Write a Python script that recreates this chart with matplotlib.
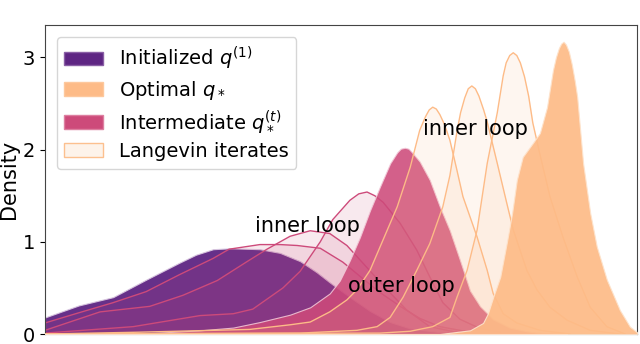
import matplotlib
matplotlib.use("Agg")
import matplotlib.pyplot as plt
from matplotlib.patches import Patch

# densities (x axis is unitless, 0..10)
x_init = [0.0, 0.57, 1.15, 1.71, 2.26, 2.55, 2.84, 3.13, 3.63, 3.97, 4.31, 4.59, 4.81, 5.15, 5.49, 5.83, 6.17, 6.67, 7.35]
q_init = [0.18, 0.31, 0.40, 0.59, 0.77, 0.86, 0.92, 0.93, 0.92, 0.88, 0.79, 0.67, 0.56, 0.40, 0.25, 0.13, 0.06, 0.02, 0.0]

# intermediate targets (inner loop of the outer loop)
x_mid1 = [0.0, 0.57, 1.15, 1.71, 2.26, 2.84, 3.11, 3.63, 3.97, 4.26, 4.65, 5.03, 5.37, 5.66, 6.00, 6.33, 6.67, 7.18]
q_mid1 = [0.12, 0.23, 0.34, 0.46, 0.64, 0.82, 0.92, 0.97, 0.97, 0.96, 0.93, 0.78, 0.60, 0.45, 0.30, 0.17, 0.08, 0.02]

x_mid2 = [0.0, 0.93, 1.77, 2.33, 2.91, 3.40, 3.75, 4.14, 4.48, 4.81, 5.10, 5.44, 5.78, 6.11, 6.50, 7.01]
q_mid2 = [0.04, 0.24, 0.30, 0.42, 0.58, 0.78, 0.92, 1.06, 1.12, 1.09, 0.96, 0.72, 0.48, 0.26, 0.08, 0.01]

x_mid3 = [0.0, 1.49, 2.62, 3.18, 3.51, 4.02, 4.31, 4.65, 4.86, 5.15, 5.30, 5.44, 5.57, 5.71, 6.00, 6.28, 6.50,
          6.72, 7.01, 7.35, 7.69]
q_mid3 = [0.01, 0.08, 0.20, 0.22, 0.27, 0.50, 0.68, 1.00, 1.24, 1.45, 1.52, 1.54, 1.50, 1.43, 1.20, 0.91, 0.62,
          0.34, 0.16, 0.06, 0.02]

x_mid4 = [0.0, 1.77, 2.62, 3.18, 3.63, 4.14, 4.48, 4.81, 4.98, 5.15, 5.32, 5.49, 5.66, 5.83, 5.95, 6.01, 6.08,
          6.14, 6.20, 6.33, 6.50, 6.67, 6.84, 7.01, 7.18, 7.35, 7.57, 7.85, 8.14, 8.31, 8.82]
q_mid4 = [0.0, 0.01, 0.04, 0.07, 0.13, 0.21, 0.29, 0.44, 0.58, 0.80, 1.05, 1.34, 1.60, 1.85, 1.97, 2.01, 2.02,
          2.01, 1.97, 1.87, 1.67, 1.38, 1.12, 0.80, 0.47, 0.30, 0.16, 0.07, 0.03, 0.015, 0.0]

# Langevin iterates
x_lan1 = [0.0, 1.60, 3.46, 4.14, 4.48, 4.81, 5.10, 5.27, 5.49, 5.71, 5.95, 6.17, 6.33, 6.43, 6.49, 6.55, 6.61,
          6.67, 6.75, 6.84, 6.95, 7.06, 7.30, 7.47, 7.57, 7.74, 7.97, 8.36, 8.87]
q_lan1 = [0.0, 0.02, 0.05, 0.10, 0.13, 0.24, 0.37, 0.48, 0.69, 1.02, 1.38, 1.81, 2.21, 2.36, 2.43, 2.46, 2.44,
          2.38, 2.27, 2.10, 1.80, 1.49, 1.05, 0.69, 0.44, 0.22, 0.12, 0.04, 0.0]

x_lan2 = [0.0, 4.31, 5.27, 5.61, 5.83, 6.05, 6.28, 6.50, 6.72, 6.84, 6.96, 7.02, 7.09, 7.15, 7.21, 7.27, 7.33,
          7.41, 7.47, 7.64, 7.80, 7.91, 8.14, 8.31, 8.53, 8.82, 9.21, 9.71]
q_lan2 = [0.0, 0.01, 0.04, 0.08, 0.18, 0.40, 0.69, 0.98, 1.38, 1.72, 2.20, 2.40, 2.56, 2.66, 2.69, 2.66, 2.58,
          2.43, 2.30, 1.85, 1.42, 1.13, 0.69, 0.48, 0.29, 0.15, 0.04, 0.0]

x_lan3 = [0.0, 5.66, 6.17, 6.55, 6.84, 6.96, 7.13, 7.30, 7.47, 7.64, 7.74, 7.79, 7.85, 7.91, 7.97, 8.03, 8.10,
          8.17, 8.24, 8.36, 8.53, 8.75, 8.99, 9.21, 9.49, 9.80]
q_lan3 = [0.0, 0.01, 0.03, 0.08, 0.18, 0.40, 0.69, 1.13, 1.85, 2.40, 2.80, 2.94, 3.02, 3.05, 3.02, 2.94, 2.79,
          2.58, 2.29, 1.95, 1.49, 1.05, 0.62, 0.29, 0.08, 0.0]

# optimal target
x_opt = [0.0, 6.67, 7.18, 7.40, 7.48, 7.57, 7.69, 7.80, 7.89, 7.97, 8.07, 8.24, 8.36, 8.48, 8.58, 8.63, 8.68,
         8.72, 8.76, 8.80, 8.85, 8.90, 8.95, 8.99, 9.09, 9.21, 9.32, 9.49, 9.71, 9.88, 10.0]
q_opt = [0.0, 0.0, 0.04, 0.12, 0.22, 0.40, 0.62, 0.99, 1.31, 1.67, 1.92, 2.07, 2.18, 2.46, 2.86, 3.00, 3.10,
         3.15, 3.17, 3.14, 3.06, 2.92, 2.74, 2.57, 1.85, 1.31, 0.95, 0.59, 0.26, 0.08, 0.02]

c_purple = '#5e2583'
c_pink = '#cd4a7a'
c_orange = '#fdbb87'

fig = plt.figure(figsize=(6.4, 3.44), dpi=100)
ax = fig.add_axes([0.0703, 0.029, 0.925, 0.898])

# initial distribution
ax.fill_between(x_init, q_init, color=c_purple, alpha=0.95, ec='#d9c7e0', lw=0.8, zorder=1)

# inner loop intermediate densities
for xs, ys in [(x_mid1, q_mid1), (x_mid2, q_mid2), (x_mid3, q_mid3)]:
    ax.fill_between(xs, ys, color=c_pink, alpha=0.12, lw=0, zorder=2)
    ax.plot(xs, ys, color=c_pink, lw=1.0, zorder=2)

# last intermediate target
ax.fill_between(x_mid4, q_mid4, color=c_pink, alpha=0.88, ec='#f2c9d8', lw=0.8, zorder=3)

# Langevin iterates
for xs, ys in [(x_lan1, q_lan1), (x_lan2, q_lan2), (x_lan3, q_lan3)]:
    ax.fill_between(xs, ys, color=c_orange, alpha=0.12, lw=0, zorder=4)
    ax.plot(xs, ys, color=c_orange, lw=1.0, zorder=4)

ax.fill_between(x_opt, q_opt, color=c_orange, alpha=0.92, ec='#fde3cc', lw=0.8, zorder=5)

ax.text(3.55, 1.11, 'inner loop', fontsize=15, zorder=6)
ax.text(6.39, 2.16, 'inner loop', fontsize=15, zorder=6)
ax.text(5.12, 0.46, 'outer loop', fontsize=15, zorder=6)

ax.set_xlim(0, 10)
ax.set_ylim(0, 3.35)
ax.set_xticks([])
ax.set_yticks([0, 1, 2, 3])
ax.tick_params(axis='y', labelsize=14)
ax.set_ylabel('Density', fontsize=15, labelpad=3)
for s in ax.spines.values():
    s.set_color('#444444')

handles = [
    Patch(facecolor=c_purple, edgecolor='#8a5fa5', label=r'Initialized $q^{(1)}$'),
    Patch(facecolor=c_orange, edgecolor='#fdc89d', label=r'Optimal $q_*$'),
    Patch(facecolor=c_pink, edgecolor='#dd7fa0', label=r'Intermediate $q_*^{(t)}$'),
    Patch(facecolor='#fdf3ea', edgecolor='#fcc08f', label='Langevin iterates'),
]
ax.legend(handles=handles, loc='upper left', fontsize=14, borderaxespad=0.6,
          handletextpad=0.8, labelspacing=0.35)

fig.savefig('out.png', dpi=100)
